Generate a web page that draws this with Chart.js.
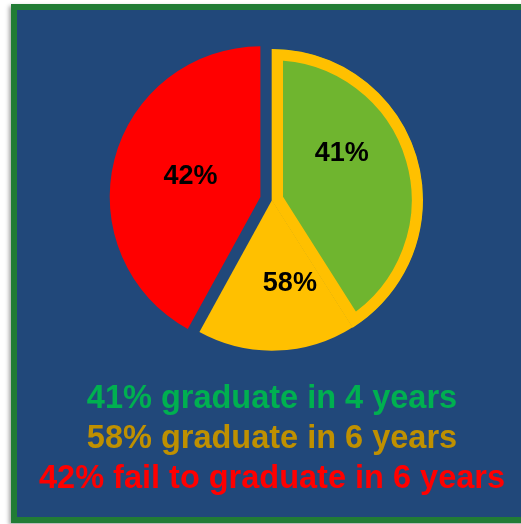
<!DOCTYPE html>
<html>
<head>
<meta charset="utf-8">
<script src="https://cdn.jsdelivr.net/npm/chart.js@4"></script>
<style>
  html, body { margin: 0; padding: 0; background: #ffffff; width: 521px; height: 524px; overflow: hidden; }
  #panel {
    position: absolute; left: 11px; top: 4px; width: 530px; height: 519px;
    box-sizing: border-box; border: 6px solid #217C35; background: #21487A;
    box-shadow: -2px 2px 4px rgba(0, 0, 0, 0.35);
  }
  #grafico { position: absolute; left: 0; top: 0; }
</style>
</head>
<body>
<div id="panel"></div>
<canvas id="grafico" width="521" height="524"></canvas>
<script>
// Porcentajes de graduación
const shares = [41, 58, 42];
const phrases = ["graduate in 4 years", "graduate in 6 years", "fail to graduate in 6 years"];
const sliceColors = ["#6FB52F", "#FFC000", "#FF0000"];
const captionColors = ["#00B050", "#BF9000", "#FF0000"];

// La porción de 58% incluye la de 41%, así que el trozo amarillo visible es la diferencia
const sliceValues = [shares[0], shares[1] - shares[0], shares[2]];

// Dónde va cada etiqueta dentro de su porción (fracción del ángulo, fracción del radio)
const labelSpots = [[0.377, 0.56], [0.33, 0.56], [0.52, 0.485]];

const centroX = 272, centroY = 200, radio = 151, separacion = 12;

// Separa la porción roja del resto
const separarRoja = {
  id: "separarRoja",
  afterDatasetsUpdate(chart) {
    const arc = chart.getDatasetMeta(0).data[2];
    const mid = (arc.startAngle + arc.endAngle) / 2;
    arc.x += Math.cos(mid) * separacion;
    arc.y += Math.sin(mid) * separacion;
  }
};

// Etiquetas dentro del pastel y textos de abajo
const textos = {
  id: "textos",
  afterDraw(chart) {
    const ctx = chart.ctx;
    const arcs = chart.getDatasetMeta(0).data;
    ctx.save();
    ctx.fillStyle = "#000000";
    ctx.font = "bold 27px 'Liberation Sans', Arial, sans-serif";
    ctx.textAlign = "center";
    ctx.textBaseline = "middle";
    arcs.forEach((arc, i) => {
      const [t, r] = labelSpots[i];
      const ang = arc.startAngle + (arc.endAngle - arc.startAngle) * t;
      const x = arc.x + Math.cos(ang) * arc.outerRadius * r;
      const y = arc.y + Math.sin(ang) * arc.outerRadius * r;
      ctx.fillText(shares[i] + "%", x, y + 1);
    });

    ctx.font = "bold 32.5px 'Liberation Sans', Arial, sans-serif";
    ctx.textBaseline = "alphabetic";
    shares.forEach((s, i) => {
      ctx.fillStyle = captionColors[i];
      ctx.fillText(s + "% " + phrases[i], centroX, 408 + i * 40);
    });
    ctx.restore();
  }
};

new Chart(document.getElementById("grafico"), {
  type: "pie",
  data: {
    labels: phrases,
    datasets: [{
      data: sliceValues,
      backgroundColor: sliceColors,
      borderColor: [sliceColors[1], sliceColors[1], sliceColors[2]],
      borderWidth: [11, 0, 0],
      borderAlign: "inner",
      radius: radio
    }]
  },
  options: {
    responsive: false,
    animation: false,
    layout: {
      padding: { left: centroX - 160, right: 521 - centroX - 160, top: centroY - 160, bottom: 524 - centroY - 160 }
    },
    plugins: {
      legend: { display: false },
      tooltip: { enabled: false }
    }
  },
  plugins: [separarRoja, textos]
});
</script>
</body>
</html>
